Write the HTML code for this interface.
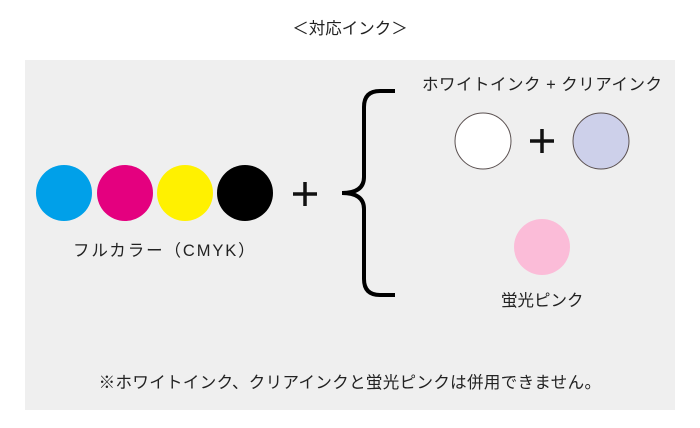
<!DOCTYPE html>
<html><head><meta charset="utf-8"><style>
body{margin:0;width:700px;height:428px;background:#fff;font-family:"Liberation Sans","Noto Sans CJK JP",sans-serif;position:relative;overflow:hidden}
.t{position:absolute;font-size:16.5px;color:#222;white-space:nowrap;line-height:20px}
</style></head><body>
<div class="t" style="left:0;width:700px;text-align:center;top:19px">＜対応インク＞</div>
<div style="position:absolute;left:25px;top:60px;width:650px;height:350px;background:#efefef"></div>
<svg style="position:absolute;left:0;top:0" width="700" height="428">
<circle cx="64" cy="193" r="28" fill="#00a0e9"/>
<circle cx="125" cy="193" r="28" fill="#e4007f"/>
<circle cx="185" cy="193" r="28" fill="#fff100"/>
<circle cx="245" cy="193" r="28" fill="#000"/>
<path d="M305 182v24M293 194h24" stroke="#111" stroke-width="3.5"/>
<path d="M395 91h-15q-16 0-16 16v70q0 16-22 16q22 0 22 16v70q0 16 16 16h15" fill="none" stroke="#000" stroke-width="4"/>
<circle cx="483" cy="141" r="28" fill="#fff" stroke="#5a5050" stroke-width="1"/>
<circle cx="601" cy="141" r="28" fill="#cdd0ea" stroke="#5a5050" stroke-width="1"/>
<path d="M542 129v24M530 141h24" stroke="#111" stroke-width="3.5"/>
<circle cx="542" cy="247" r="28" fill="#fbbcd8"/>
</svg>
<div class="t" style="left:73px;top:241px;letter-spacing:1.9px">フルカラー（CMYK）</div>
<div class="t" style="left:422px;top:75px;letter-spacing:0.5px">ホワイトインク + クリアインク</div>
<div class="t" style="left:501px;top:291px">蛍光ピンク</div>
<div class="t" style="left:0;width:700px;text-align:center;top:373px;font-size:16.5px;letter-spacing:0.35px">※ホワイトインク、クリアインクと蛍光ピンクは併用できません。</div>
</body></html>
